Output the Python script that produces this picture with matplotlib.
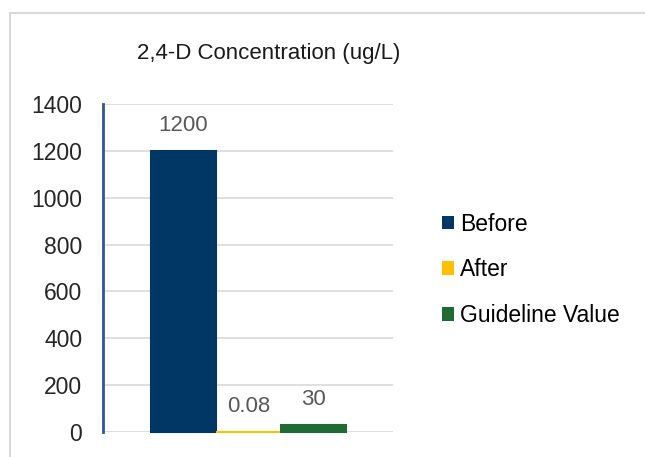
import matplotlib
matplotlib.use("Agg")
import matplotlib.pyplot as plt
from matplotlib.lines import Line2D
from matplotlib.patches import Patch

plt.rcParams['font.family'] = ['Liberation Sans', 'DejaVu Sans']

title = "2,4-D Concentration (ug/L)"
series = ["Before", "After", "Guideline Value"]
values = [1200, 0.08, 30]
labels = ["1200", "0.08", "30"]
colors = ["#003764", "#FFC000", "#1E6B34"]
yticks = [0, 200, 400, 600, 800, 1000, 1200, 1400]

fig = plt.figure(figsize=(6.45, 4.57), dpi=100)
ax = fig.add_axes([103/645, 1-432/457, 290/645, 328/457])

for i, (s, v, c, l) in enumerate(zip(series, values, colors, labels)):
    ax.bar(i, v, width=1.0, color=c, edgecolor=c, linewidth=1.5, label=s,
           zorder=3, clip_on=False)
    ax.annotate(l, (i, v), xytext=(0, 10.5), textcoords='offset points',
                ha='center', va='bottom', fontsize=16, color='#595959')

ax.set_xlim(-1.235, 3.225)
ax.set_ylim(0, 1400)
ax.set_yticks(yticks)
ax.set_yticklabels([str(t) for t in yticks], fontsize=16.5, color='#262626')
ax.set_xticks([])
ax.tick_params(axis='y', length=0, pad=15)
ax.grid(axis='y', color='#D9D9D9', linewidth=1.2, zorder=0)
for sp in ['top', 'right', 'bottom']:
    ax.spines[sp].set_visible(False)
ax.spines['left'].set_color('#2F5597')
ax.spines['left'].set_linewidth(2)
ax.spines['left'].set_zorder(4)

fig.text(269/645, 1-53/457, title, ha='center', va='center', fontsize=16, color='#1a1a1a')

handles = [Patch(facecolor=c, edgecolor='none') for c in colors]
leg = fig.legend(handles, series, loc='center left', bbox_to_anchor=(421/645, 1-270/457),
                 frameon=False, fontsize=16.5, handlelength=0.55, handleheight=0.55,
                 handletextpad=0.25, labelspacing=1.0)

# outer chart border
fig.add_artist(Line2D([10/645, 1], [1-13/457, 1-13/457], color='#D9D9D9', linewidth=1.5))
fig.add_artist(Line2D([10/645, 10/645], [0, 1-13/457], color='#D9D9D9', linewidth=1.5))

fig.savefig("out.png", dpi=100)
